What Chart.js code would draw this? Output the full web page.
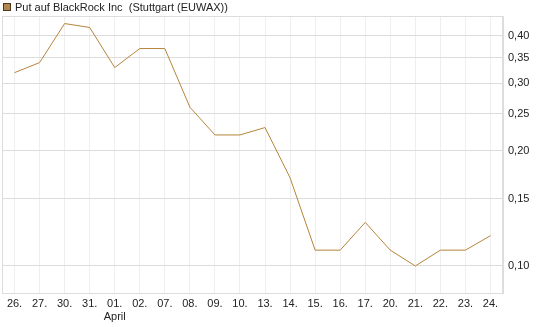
<!DOCTYPE html>
<html>
<head>
<meta charset="utf-8">
<script src="https://cdn.jsdelivr.net/npm/chart.js@4.4.0/dist/chart.umd.min.js"></script>
<style>
  html, body { margin: 0; padding: 0; background: #fff; }
  #wrap { width: 545px; height: 327px; }
</style>
</head>
<body>
<div id="wrap"><canvas id="GraficoPut" width="545" height="327"></canvas></div>
<script>
var tage = ['26.', '27.', '30.', '31.', ['01.', 'April'], '02.', '07.', '08.', '09.', '10.',
            '13.', '14.', '15.', '16.', '17.', '20.', '21.', '22.', '23.', '24.'];
var kurse = [0.32, 0.34, 0.43, 0.42, 0.33, 0.37, 0.37, 0.26, 0.22, 0.22,
             0.23, 0.17, 0.11, 0.11, 0.13, 0.11, 0.10, 0.11, 0.11, 0.12];
var yTicks = [0.10, 0.15, 0.20, 0.25, 0.30, 0.35, 0.40];
var titel = 'Put auf BlackRock Inc  (Stuttgart (EUWAX))';

Chart.defaults.font.family = '"Liberation Sans", Arial, sans-serif';
Chart.defaults.font.size = 11;
Chart.defaults.color = '#222';

var ctx = document.getElementById('GraficoPut').getContext('2d');

var grafico = new Chart(ctx, {
    type: 'line',
    data: {
        labels: tage,
        datasets: [{
            label: titel,
            data: kurse,
            borderColor: '#b5853a',
            backgroundColor: '#b08850',
            borderWidth: 1,
            pointRadius: 0,
            tension: 0,
            fill: false
        }]
    },
    options: {
        responsive: false,
        animation: false,
        layout: { padding: { left: 2, right: 0, top: 16, bottom: 0 } },
        plugins: {
            legend: { display: false },
            tooltip: { enabled: false }
        },
        scales: {
            x: {
                offset: true,
                grid: { offset: false, color: '#eeeeee', drawTicks: false },
                border: { color: '#dddddd' },
                ticks: { maxRotation: 0, autoSkip: false, padding: 4, color: '#222' },
                afterFit: function (scale) { scale.height = 34; }
            },
            y: {
                type: 'logarithmic',
                position: 'right',
                min: 0.085,
                max: 0.45,
                grid: { color: '#dddddd', drawTicks: false },
                border: { color: '#dddddd' },
                afterBuildTicks: function (scale) {
                    scale.ticks = yTicks.map(function (v) { return { value: v }; });
                },
                ticks: {
                    padding: 5,
                    color: '#222',
                    callback: function (v) { return v.toFixed(2).replace('.', ','); }
                },
                afterFit: function (scale) { scale.width = 42; }
            }
        }
    },
    plugins: [{
        id: 'rahmenUndLegende',
        afterDraw: function (chart) {
            var a = chart.chartArea;
            var c = chart.ctx;
            c.save();
            // Rahmen um die Zeichenflaeche
            c.strokeStyle = '#dddddd';
            c.lineWidth = 1;
            c.strokeRect(Math.round(a.left) + 0.5, Math.round(a.top) + 0.5,
                         Math.round(a.right - a.left) - 1, Math.round(a.bottom - a.top));
            // Legende oben links
            var ds = chart.data.datasets[0];
            c.fillStyle = ds.backgroundColor;
            c.fillRect(3, 3, 8, 8);
            c.strokeStyle = '#4a3a20';
            c.strokeRect(3.5, 3.5, 7, 7);
            c.fillStyle = '#222';
            c.font = '11px "Liberation Sans", Arial, sans-serif';
            c.textBaseline = 'middle';
            c.textAlign = 'left';
            c.fillText(ds.label, 15, 7.5);
            c.restore();
        }
    }]
});
</script>
</body>
</html>
